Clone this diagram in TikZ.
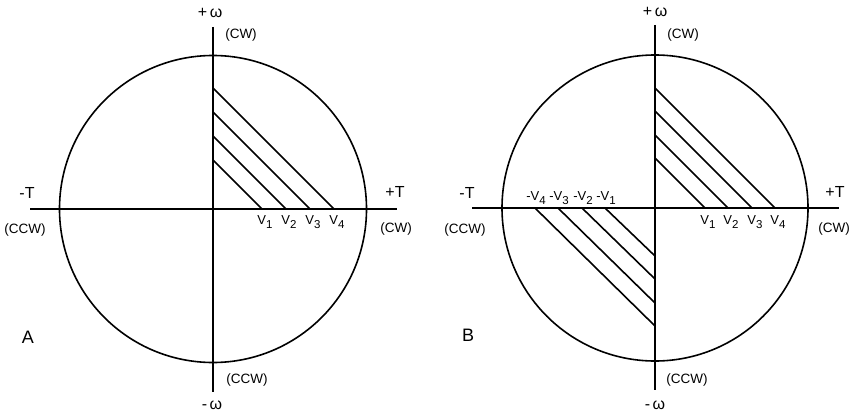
\documentclass[tikz,border=0pt]{standalone}
\usepackage{fontspec}
\setmainfont{Liberation Sans}
\usetikzlibrary{positioning}
\tikzset{
	axisline/.style={line width=2pt},
	rimline/.style={line width=1.6pt},
	hatchline/.style={line width=1.6pt},
	bigtxt/.style={font=\fontsize{16}{16}\selectfont, inner sep=0pt},
	dirtxt/.style={font=\fontsize{13.5}{14}\selectfont, inner sep=0pt},
	veltxt/.style={font=\fontsize{13}{13}\selectfont, inner sep=0pt},
	paneltxt/.style={font=\fontsize{18}{18}\selectfont, inner sep=0pt},
}
\newcommand{\Vel}[1]{V\raisebox{-3.5pt}{\fontsize{11.5}{12}\selectfont #1}}

\begin{document}
\begin{tikzpicture}[x=1pt, y=-1pt]
	\useasboundingbox (0,0) rectangle (851,412);

	% Diagram A
	\begin{scope}[shift={(213,209)}, name prefix=A-]
		\coordinate (west) at (-183,0);
		\coordinate (east) at (184,0);
		\coordinate (top) at (0,-182);
		\coordinate (bottom) at (0,183);
		\draw[rimline] (0,0) circle[radius=153.5];
		\draw[axisline] (west) -- (east);
		\draw[axisline] (top) -- (bottom);
		% velocity lines
		\foreach \d/\i in {49/1, 73/2, 97/3, 121/4} {
			\draw[hatchline] (0,-\d) -- (\d,0);
			\node[veltxt] (v\i) at (\d+3,13) {\Vel{\i}};
		}
		\node[bigtxt] (plusT) at (182,-17) {+T};
		\node[dirtxt] (cwT) at (183,20) {(CW)};
		\node[bigtxt] (minusT) at (-186,-16) {-T};
		\node[dirtxt] (ccwT) at (-188,21) {(CCW)};
		\node[bigtxt] (plusW) at (-3,-196) {+\,ω};
		\node[dirtxt] (cwW) at (28,-174) {(CW)};
		\node[dirtxt] (ccwW) at (34,171) {(CCW)};
		\node[bigtxt] (minusW) at (-1,196) {-\,ω};
		\node[paneltxt] (tag) at (-185,128) {A};
	\end{scope}

	% Diagram B
	\begin{scope}[shift={(655,208)}, name prefix=B-]
		\coordinate (west) at (-183,0);
		\coordinate (east) at (184,0);
		\coordinate (top) at (0,-183);
		\coordinate (bottom) at (0,182);
		\draw[rimline] (0,0) circle[radius=153];
		\draw[axisline] (west) -- (east);
		\draw[axisline] (top) -- (bottom);
		% velocity lines, both quadrants
		\foreach \d/\i in {50/1, 73/2, 97/3, 120/4} {
			\draw[hatchline] (0,-\d) -- (\d,0);
			\node[veltxt] (v\i) at (\d+3,14) {\Vel{\i}};
			\draw[hatchline] (-\d,0) -- (0,\d-2);
			\node[veltxt] (nv\i) at (-\d+1,-10) {-\Vel{\i}};
		}
		\node[bigtxt] (plusT) at (180,-16) {+T};
		\node[dirtxt, anchor=east] (cwT) at (195,21) {(CW)};
		\node[bigtxt] (minusT) at (-188,-15) {-T};
		\node[dirtxt] (ccwT) at (-190,22) {(CCW)};
		\node[bigtxt] (plusW) at (0,-196) {+\,ω};
		\node[dirtxt] (cwW) at (28,-173) {(CW)};
		\node[dirtxt] (ccwW) at (32,172) {(CCW)};
		\node[bigtxt] (minusW) at (0,197) {-\,ω};
		\node[paneltxt] (tag) at (-187,127) {B};
	\end{scope}
\end{tikzpicture}
\end{document}
